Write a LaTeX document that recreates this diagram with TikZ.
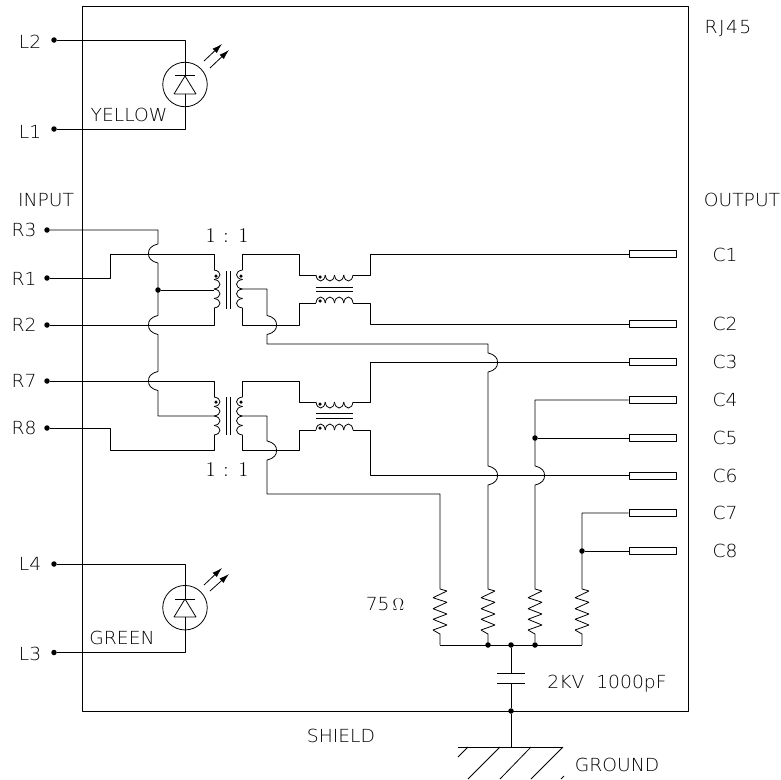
\documentclass[tikz,border=0pt]{standalone}
\usepackage{amsmath}
\usepackage{fontspec}
\setmainfont{DejaVu Sans ExtraLight}[FakeStretch=1.04]
\usetikzlibrary{arrows.meta}
\newfontfamily\serifnum{Latin Modern Roman}
% coil, bumps to the side given by #3
\newcommand{\coilv}[3]{\foreach \k in {0,1,2,3} \draw (#1,#2+9.5*\k) .. controls (#1+#3,#2+9.5*\k+1) and (#1+#3,#2+9.5*\k+8.5) .. (#1,#2+9.5*\k+9.5);}
\newcommand{\coilh}[3]{\foreach \k in {0,1,2,3} \draw (#1+9.25*\k,#2) .. controls (#1+9.25*\k+1,#2+#3) and (#1+9.25*\k+8.25,#2+#3) .. (#1+9.25*\k+9.25,#2);}
% hops of a vertical wire over a horizontal one
\newcommand{\hopl}[2]{-- (#1,#2-9.5) .. controls (#1-8,#2-7.5) and (#1-9.5,#2-4) .. (#1-9.5,#2) .. controls (#1-9.5,#2+4) and (#1-8,#2+7.5) .. (#1,#2+9.5)}
\newcommand{\hopr}[2]{-- (#1,#2-9.5) .. controls (#1+8,#2-7.5) and (#1+9.5,#2-4) .. (#1+9.5,#2) .. controls (#1+9.5,#2+4) and (#1+8,#2+7.5) .. (#1,#2+9.5)}
\newcommand{\zigzag}[1]{-- (#1,589) -- (#1+7,591) -- (#1-7,597.7) -- (#1+7,602.3) -- (#1-7,608.7) -- (#1+7,614) -- (#1-7,619.3) -- (#1+7,625) -- (#1-7,630) -- (#1,634)}

\begin{document}
\begin{tikzpicture}[x=1pt,y=-1pt,>={Latex[length=10pt,width=6pt]},line join=bevel,line width=0.8pt,
  lbl/.style={inner sep=0pt,font=\fontsize{18}{18}\selectfont},
  ratio/.style={inner sep=0pt,font=\fontsize{21}{21}\selectfont\serifnum},
  dot/.style={circle,fill=black,inner sep=0pt,minimum size=5.5pt},
  tinydot/.style={circle,fill=black,inner sep=0pt,minimum size=3.5pt},
  pinbox/.style={draw,inner sep=0pt,minimum width=47pt,minimum height=7pt},
]
\useasboundingbox (0,0) rectangle (781,779);
%%
\node (box_rj45) at (385,358.5) [draw,inner sep=0pt,minimum width=606pt,minimum height=705pt] {};
  \node (lbl_rj45) at (728,29) [lbl] {\addfontfeature{LetterSpace=8}RJ45};
  \node (lbl_input) at (46,200) [lbl] {INPUT};
  \node (lbl_output) at (742,200) [lbl] {OUTPUT};
  \node (lbl_shield) at (341,736) [lbl] {SHIELD};
  \node (lbl_ground) at (617,765) [lbl] {GROUND};
  \node (lbl_yellow) at (129,115) [lbl] {YELLOW};
  \node (lbl_green) at (122,638) [lbl] {GREEN};
  \node (lbl_ratio_a) at (227,236) [ratio] {1\hspace{1.5pt} : \hspace{1.5pt}1};
  \node (lbl_ratio_b) at (227,470) [ratio] {1\hspace{1.5pt} : \hspace{1.5pt}1};
  \node (lbl_res) at (385,604) [lbl] {75\,{\fontsize{18}{18}\selectfont\serifnum $\Omega$}};
  \node (lbl_cap) at (607,684) [lbl] {2KV\ \ 1000pF};
%% pins on the left
  \node (dot_L2) at (54,40) [dot] {};
  \node (dot_L1) at (54,129) [dot] {};
  \node (dot_L4) at (54,564) [dot] {};
  \node (dot_L3) at (54,652.5) [dot] {};
  \node (dot_R3) at (47,230) [dot] {};
  \node (dot_R1) at (47,278) [dot] {};
  \node (dot_R2) at (47,325) [dot] {};
  \node (dot_R7) at (47,381) [dot] {};
  \node (dot_R8) at (47,428) [dot] {};
  \node (lbl_L2) at (30,41.5) [lbl] {L2};
  \node (lbl_L1) at (30,131.5) [lbl] {L1};
  \node (lbl_L4) at (30,564) [lbl] {L4};
  \node (lbl_L3) at (30,654) [lbl] {L3};
  \node (lbl_R3) at (24,230) [lbl] {R3};
  \node (lbl_R1) at (24,279) [lbl] {R1};
  \node (lbl_R2) at (24,325) [lbl] {R2};
  \node (lbl_R7) at (24,381) [lbl] {R7};
  \node (lbl_R8) at (24,428) [lbl] {R8};
%% pins on the right
  \node (pin_C1) at (652.5,254) [pinbox] {};
  \node (pin_C2) at (652.5,324) [pinbox] {};
  \node (pin_C3) at (652.5,362) [pinbox] {};
  \node (pin_C4) at (652.5,400) [pinbox] {};
  \node (pin_C5) at (652.5,438) [pinbox] {};
  \node (pin_C6) at (652.5,475.5) [pinbox] {};
  \node (pin_C7) at (652.5,513) [pinbox] {};
  \node (pin_C8) at (652.5,551) [pinbox] {};
  \node (lbl_C1) at (725,255) [lbl] {C1};
  \node (lbl_C2) at (725,324) [lbl] {C2};
  \node (lbl_C3) at (725,362) [lbl] {C3};
  \node (lbl_C4) at (725,400) [lbl] {C4};
  \node (lbl_C5) at (725,438) [lbl] {C5};
  \node (lbl_C6) at (725,475.5) [lbl] {C6};
  \node (lbl_C7) at (725,513) [lbl] {C7};
  \node (lbl_C8) at (725,551) [lbl] {C8};
%% junctions
  \node (dot_tap) at (158,290) [dot] {};
  \node (dot_c5) at (535,438) [dot] {};
  \node (dot_c8) at (582,551) [dot] {};
  \node (dot_bus_a) at (488,645) [dot] {};
  \node (dot_bus_b) at (511,645) [dot] {};
  \node (dot_bus_c) at (535,645) [dot] {};
  \node (dot_shield) at (511,711) [dot] {};
  \coordinate (tap_upper) at (214,290);
  \coordinate (tap_lower) at (214,416);
  \coordinate (plate_a) at (511,673);
  \coordinate (plate_b) at (511,683);
  \coordinate (earth) at (511,747);
  \coordinate (bus_left) at (440,645);
  \coordinate (bus_right) at (582,645);
  \node (led_yellow) at (185,84.5) [draw,circle,inner sep=0pt,minimum size=44.5pt] {};
  \node (led_green) at (185,607.7) [draw,circle,inner sep=0pt,minimum size=44.5pt] {};
%% leds
  \draw (dot_L2) -| (led_yellow.north);
  \draw (dot_L1) -| (led_yellow.south);
  \draw (led_yellow.north) -- (185,75.5);
  \draw (185,94) -- (led_yellow.south);
  \draw (175,75.5) -- (195,75.5);
  \draw (185,76) -- (174,94) -- (196,94) -- cycle;
  \draw [->] (204,61) -- (222,44);
  \draw [->] (210,68) -- (229,50);
  \draw (dot_L4) -| (led_green.north);
  \draw (dot_L3) -| (led_green.south);
  \draw (led_green.north) -- (185,599);
  \draw (185,617) -- (led_green.south);
  \draw (175,599) -- (195,599);
  \draw (185,599) -- (174,617) -- (196,617) -- cycle;
  \draw [->] (204,585) -- (222,568);
  \draw [->] (210,591) -- (229,574);
%% upper transformer
  \draw (dot_R3) -- (158,230) \hopl{158}{253.5} \hopl{158}{325} \hopl{158}{381} |- (tap_lower);
  \draw (dot_R1) -| (110,254) -- (214,254) -- (214,270);
  \draw (dot_R2) -- (214,325) -- (214,308);
  \draw (dot_tap) -- (tap_upper);
  \coilv{214}{270}{8}
  \coilv{242.5}{270}{-8}
  \draw (226,271) -- (226,309);
  \draw (230,271) -- (230,309);
  \node (dot_pri_a) at (216,276) [tinydot] {};
  \node (dot_sec_a) at (241,276) [tinydot] {};
  \draw (242.5,270) -- (242.5,254) -| (299,275) -- (316,275);
  \draw (353,275) -| (370,254) -- (pin_C1.west);
  \coilh{316}{275}{8}
  \draw (316,287) -- (353,287);
  \draw (316,291) -- (353,291);
  \coilh{316}{303}{-8}
  \node (dot_chk_a) at (320,277) [tinydot] {};
  \node (dot_chk_b) at (320,301) [tinydot] {};
  \draw (242.5,308) -- (242.5,325) -| (299,303) -- (316,303);
  \draw (353,303) -| (370,324) -- (pin_C2.west);
  \draw (242.5,289) -| (267,300) \hopr{267}{325} |- (488,344) \hopr{488}{362.5} \hopr{488}{475.5} \zigzag{488} |- (dot_bus_a);
%% lower transformer
  \draw (dot_R7) -- (214,381) -- (214,397);
  \draw (dot_R8) -| (110,450.5) -- (214,450.5) -- (214,435);
  \coilv{214}{397}{8}
  \coilv{242.5}{397}{-8}
  \draw (226,397) -- (226,435);
  \draw (230,397) -- (230,435);
  \node (dot_pri_b) at (216,402) [tinydot] {};
  \node (dot_sec_b) at (241,402) [tinydot] {};
  \draw (242.5,397) -- (242.5,381) -| (299,402) -- (316,402);
  \draw (353,402) -| (370,362) -- (pin_C3.west);
  \coilh{316}{402}{8}
  \draw (316,413.5) -- (353,413.5);
  \draw (316,418) -- (353,418);
  \coilh{316}{430}{-8}
  \node (dot_chk_c) at (320,404) [tinydot] {};
  \node (dot_chk_d) at (320,428) [tinydot] {};
  \draw (242.5,435) -- (242.5,450.5) -| (299,430) -- (316,430);
  \draw (353,430) -| (370,475.5) -- (pin_C6.west);
  \draw (242.5,416) -| (267,425) \hopr{267}{450.5} |- (440,494) \zigzag{440} |- (bus_left);
%% output side
  \draw (pin_C4.west) -| (535,430) \hopr{535}{475.5} \zigzag{535} -- (dot_bus_c);
  \draw (dot_c5) -- (pin_C5.west);
  \draw (pin_C7.west) -| (582,560) \zigzag{582} -- (bus_right);
  \draw (dot_c8) -- (pin_C8.west);
  \draw (bus_left) -- (bus_right);
  \draw (dot_bus_b) -- (plate_a);
  \draw (497,673) -- (525,673);
  \draw (497,683) -- (525,683);
  \draw (plate_b) -- (dot_shield) -- (earth);
  \draw (458,747) -- (563,747);
  \draw (468,747) -- (458,757);
  \draw (500,747) -- (468,779);
  \draw (531,747) -- (500,779);
  \draw (563,747) -- (531,779);
  \draw (564,776) -- (561,779);
%
\end{tikzpicture}
\end{document}
